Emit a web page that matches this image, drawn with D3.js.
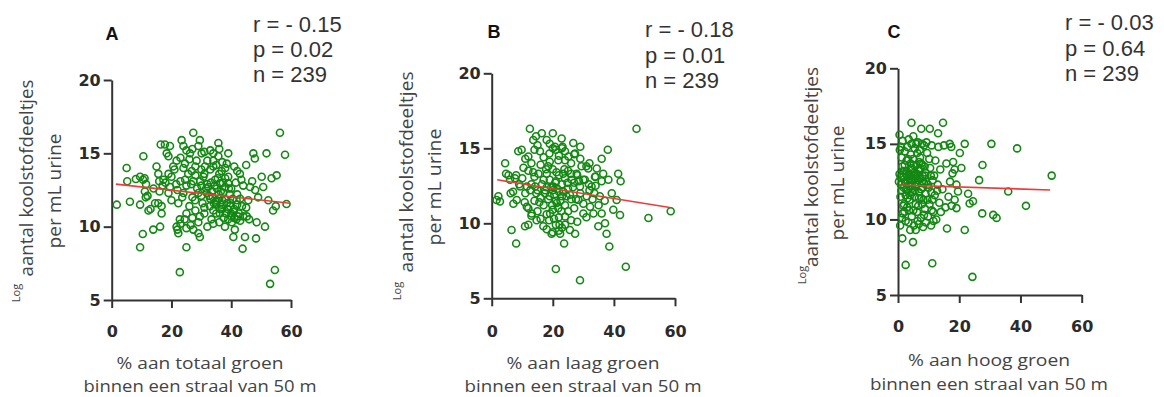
<!DOCTYPE html>
<html>
<head>
<meta charset="utf-8">
<script src="https://cdn.jsdelivr.net/npm/d3@7"></script>
<style>
  body { margin: 0; background: #fff; }
  svg { display: block; }
</style>
</head>
<body>
<svg id="chart" width="1164" height="397"></svg>
<script>
// ticks
var xTicks = [0, 20, 40, 60];
var yTicks = [5, 10, 15, 20];

// panel A: % totaal groen vs log koolstofdeeltjes
var pointsA = [
  [1.7,11.5],[5,14.0],[5.2,13.1],[6.1,11.7],[8.1,13.25],[9.5,13.4],[10.5,13.2],[11.5,12.9],[9.5,11.5],[9.5,8.6],
  [10.4,9.5],[10.6,14.8],[11.1,12.4],[11.4,12.0],[12.3,11.1],[13.9,9.8],[14.5,11.6],[15,14.1],[15.6,13.6],[15.9,13.1],
  [16.2,10.0],[16.4,15.6],[16.7,10.9],[16.7,11.4],[15.6,11.6],[17.3,13.2],[17.8,15.6],[18.4,15.0],[19,14.8],[19.5,15.5],
  [19,13.6],[19.5,12.7],[20,13.4],[20.6,14.1],[21.7,14.5],[22.3,11.6],[21.7,10.0],[22.3,9.55],[22.8,10.5],[22.8,6.9],
  [23.4,15.9],[24,15.5],[24.5,14.3],[25,8.6],[25,12.8],[25.6,13.6],[26.2,15.0],[26.8,13.8],[27.3,16.4],[27.3,13.1],
  [27.3,9.8],[27.9,11.8],[28.4,14.5],[29,15.5],[29.5,15.9],[29,9.55],[29.5,9.3],[29.5,10.7],[30.1,15.0],[30.7,13.4],
  [31.2,14.1],[31.8,12.3],[32.3,12.7],[32.9,11.4],[33.4,10.5],[34,15.0],[34,14.1],[34.6,13.2],[35.1,11.8],[35.7,15.7],
  [35.7,14.8],[36.2,10.9],[36.2,12.95],[36.8,13.8],[37.3,12.3],[37.9,10.0],[38.5,14.3],[39,12.95],[39.6,11.4],[40.1,10.7],
  [40.7,9.3],[41.2,9.8],[41.8,10.5],[42.3,10.7],[42.9,13.6],[43.4,13.2],[43.8,8.5],[44.6,9.3],[45.2,10.7],[45.7,11.8],
  [46.3,12.7],[47.4,15.0],[47.9,14.65],[48.3,9.2],[48.5,10.3],[49,12.0],[50.2,13.4],[50.7,12.7],[51.3,10.0],[51.8,15.0],
  [52.4,11.8],[53,6.1],[53.5,13.3],[54,11.1],[54.6,7.05],[54.9,11.4],[55.2,13.5],[56.3,16.4],[58,14.9],[58.5,11.55],
  [30,12.1],[31,11.3],[32,12.9],[33,11.9],[33.5,12.4],[34,11.1],[34.5,12.8],[35,11.5],[35.5,13.3],[36,11.9],
  [36.5,12.4],[37,11.2],[37.5,10.6],[38,12.7],[38.5,11.6],[39,13.4],[39.5,12.2],[40,10.9],[40.5,11.9],[41,10.6],
  [41.5,13.0],[42,11.5],[43,10.4],[44,10.7],[33,13.9],[32,14.5],[31,13.6],[34,10.2],[36,10.3],[38,14.0],
  [37,14.4],[35,14.2],[33,15.2],[36,15.3],[39,15.0],[30,12.8],[29,12.3],[28,13.5],[27,12.0],[26,11.4],
  [25,10.9],[24,12.3],[23,13.1],[22,12.5],[21,13.9],[26,14.6],[28,14.1],[24,14.0],[23,10.2],[22,9.8],
  [25,9.9],[27,10.6],[28,11.1],[29,10.3],[30,13.9],[31,10.9],[32,10.0],[35,10.9],[37,11.8],[39,10.5],
  [40,12.6],[41,11.2],[42,12.2],[44,12.8],[45,11.3],[46,10.5],[47,13.1],[48,12.5],[43,11.9],[41,14.1],
  [42,13.8],[45,14.2],[20,11.8],[19,12.3],[18,13.0],[17,12.8],[16,12.4],[14,12.6],[13,11.2],[12,12.1],
  [11,13.3],[27,15.3],[25,15.2],[23,14.7],[31,15.1],[34,14.5],[38,13.3],[36,13.6],
  [33.8,12.0],[34.8,11.7],[35.8,12.2],[36.8,11.5],[37.8,11.9],[38.8,11.2],[39.8,11.6],[40.8,11.0],[41.8,11.8],[33.2,13.0],
  [35.2,12.6],[37.2,13.0],[39.2,12.6],[34.2,11.6],[36.2,11.2],[38.2,10.9],[40.2,10.3],[42.6,10.9],[32.6,12.1],[31.6,12.6],
  [29.6,13.1],[28.6,12.6],[26.6,12.9],[24.6,13.2],[23.6,12.0],[21.6,12.9],[26.4,10.1],[24.4,10.5],[30.4,11.6],[43.6,11.4]
];

// panel B: % laag groen
var pointsB = [
  [1.6,11.55],[2.2,11.8],[2.7,11.45],[4.4,14.0],[4.7,13.3],[5.5,13.2],[6,12.9],[6.2,12.0],[6.5,9.55],[7.1,11.3],
  [7.6,13.0],[8,8.65],[8.2,11.55],[8.7,14.8],[9.3,12.45],[9.8,14.9],[10.4,13.7],[10.9,9.8],[11.5,12.45],[11.5,11.1],
  [12,14.45],[12.5,16.3],[13.1,10.65],[13.6,15.55],[14.2,12.45],[14.5,15.8],[14.7,10.2],[15.3,13.3],[15.8,14.8],[16.4,16.0],
  [16.9,9.8],[17.4,12.0],[18,15.55],[18.5,13.8],[18.9,14.65],[19.1,10.65],[19.6,9.3],[20,16.0],[20.2,12.45],[20.7,15.1],
  [21,6.95],[21.3,11.35],[21.8,14.2],[22.4,9.3],[22.9,15.65],[23.2,15.1],[23.4,13.3],[23.7,8.65],[24,10.45],[24.5,11.8],
  [25.1,14.45],[25.6,9.55],[26.2,12.9],[26.7,15.35],[27.3,14.65],[27.3,9.3],[27.8,13.3],[28.4,11.55],[28.9,6.2],[28.9,12.45],
  [29.4,13.8],[30,10.65],[30.5,12.9],[31.1,11.8],[31.6,13.65],[32.2,11.1],[32.7,12.45],[33.3,10.65],[33.8,13.1],[34.4,13.65],
  [34.9,9.8],[35.4,11.8],[36,10.65],[36.5,13.3],[37.1,10.0],[37.6,9.3],[38,14.9],[38.2,12.9],[38.5,8.45],[39.3,12.0],
  [39.8,10.9],[40.9,11.55],[41.4,13.3],[42,10.55],[42.2,12.8],[43.9,7.1],[47.4,16.3],[51.3,10.35],[58.6,10.8],
  [10,13.0],[11,12.0],[12,13.5],[12,11.0],[13,12.6],[13,14.0],[14,11.5],[14,13.1],[15,12.2],[15,10.8],
  [16,13.9],[16,11.7],[16,10.3],[17,12.9],[17,14.4],[17,11.2],[18,12.4],[18,10.6],[18,13.3],[19,11.8],
  [19,12.9],[19,14.1],[20,12.2],[20,10.9],[20,13.6],[21,11.5],[21,12.8],[21,9.9],[22,12.1],[22,13.2],
  [22,10.4],[22,14.5],[23,11.8],[23,12.6],[23,9.7],[24,13.0],[24,11.2],[24,14.2],[25,12.3],[25,10.8],
  [25,13.5],[26,11.6],[26,14.0],[26,10.2],[27,12.7],[27,11.0],[28,13.2],[28,10.1],[29,12.0],[29,14.3],
  [30,11.3],[30,12.9],[31,13.8],[31,10.4],[32,12.2],[33,11.6],[34,12.5],[35,11.2],[36,12.8],[37,11.5],
  [20,15.0],[19,15.3],[23,15.0],[24,14.8],[14,14.9],[11,14.3],[9,12.6],[8,13.2],[7,12.1],[18,9.6],
  [20,9.4],[22,9.5],[24,9.9],[15,15.2],[21,14.9],[26,13.3],[27,14.6],[29,15.1],[32,14.0],[34,13.1],
  [36,14.3],[13,10.5],[12,9.9],
  [16.5,12.6],[17.5,12.2],[18.5,11.6],[19.5,12.4],[20.5,11.9],[21.5,12.3],[22.5,11.5],[23.5,12.1],[20.8,12.7],[19.8,11.2],
  [21.8,11.0],[18.8,10.2],[20.4,10.3],[22.8,10.8],[17.8,13.6],[23.8,13.6],[15.6,11.4],[14.6,12.0],[25.6,11.9],[26.6,12.4],
  [13.6,13.4],[12.6,12.2],[27.6,11.6],[28.6,12.8],[24.8,12.7],[21.2,13.4],[22.2,9.9],[31.8,12.6],[33.6,12.0],[10.8,11.4]
];

// panel C: % hoog groen
var pointsC = [
  [1.4,8.75],[2.5,6.99],[4.9,8.5],[4.4,16.4],[7.6,16.0],[10.4,16.0],[11.2,7.1],[13.1,15.7],[14.7,16.4],[16.0,9.4],
  [16.9,15.0],[17.4,14.8],[15.8,13.7],[18,13.8],[17.8,13.05],[18.5,13.3],[19.1,12.3],[19.6,11.85],[19.1,10.75],[20.2,14.4],
  [20.7,13.4],[21.8,15.0],[21.8,9.3],[22.9,11.7],[23.4,11.05],[24.3,6.2],[24.5,11.2],[26.5,12.6],[27.6,13.6],[27.5,10.4],
  [30.5,15.0],[31.1,10.3],[32.2,10.1],[36,11.85],[38.9,14.7],[41.8,10.9],[50.2,12.9],
  [0.5,13.0],[0.8,11.5],[1.0,12.3],[1.2,14.1],[1.5,10.4],[1.8,12.8],[2.0,11.0],[2.2,13.6],[2.5,9.9],[2.7,12.0],
  [3.0,14.8],[3.0,10.8],[0.5,15.6],[1.5,15.2],[0.7,9.6],[2.0,13.2],[2.5,11.6],[3.2,12.6],
  [3.5,13.0],[3.8,11.3],[4.0,12.4],[4.2,14.3],[4.5,10.2],[4.5,13.4],[4.8,11.8],[5.0,12.9],[5.2,9.6],[5.5,12.2],
  [5.5,14.7],[5.8,11.0],[6.0,13.6],[6.2,10.5],[3.5,15.3],[5.0,15.5],[6.0,15.0],[4.0,9.3],[5.8,9.3],[4.3,12.0],
  [5.3,13.1],[3.7,12.7],
  [6.5,12.6],[6.8,11.4],[7.0,13.2],[7.2,14.1],[7.5,10.1],[7.5,12.0],[7.8,11.0],[8.0,13.6],[8.2,9.5],[8.5,12.4],
  [8.5,14.9],[8.8,10.7],[9.0,11.7],[6.5,15.1],[7.8,15.0],[9.0,13.1],[6.8,9.7],[8.0,12.9],
  [9.5,14.4],[9.8,10.2],[10.0,12.1],[10.3,11.0],[10.5,13.4],[10.8,9.6],[11.0,14.9],[11.3,12.6],[11.5,10.5],[12.0,11.6],
  [12.2,13.9],[12.5,10.0],[13.0,12.3],[13.2,14.8],[13.5,11.1],[14.0,10.5],[14.5,12.0],[15.0,14.9],[15.5,10.8],[16.5,11.5],
  [17.0,12.5],[17.5,10.9],[18.5,11.3],[13.8,13.3],
  [0.3,12.5],[0.6,14.6],[1.1,11.9],[1.4,13.5],[1.7,10.9],[2.3,12.5],[2.8,13.9],[3.1,11.4],[3.3,14.0],[3.6,10.6],
  [4.1,13.7],[4.6,12.2],[4.9,14.0],[5.4,11.5],[5.7,12.7],[6.1,12.3],[6.3,14.4],[6.6,10.9],[6.9,13.8],[7.3,12.7],
  [7.6,13.7],[8.3,11.3],[8.7,13.5],[9.2,12.5],[9.6,11.3],[10.2,14.0],[10.7,12.9],[11.2,11.3],[11.8,12.9],[2.2,14.5],
  [4.4,15.0],[7.1,14.6],[9.3,15.1],[1.3,10.1],[3.4,9.8],[6.4,9.9],[9.1,9.8],[11.6,9.9],
  [1.9,12.1],[2.9,13.2],[3.9,12.9],[4.7,12.6],[5.9,13.0],[6.7,13.3],[7.9,12.4],[8.9,12.9],[2.6,13.0],[3.5,12.2],
  [4.3,13.3],[5.1,13.6],[6.4,12.9],[7.4,13.4],[8.1,12.1],[1.6,13.2],[0.9,12.8],[5.6,11.9],[6.9,11.8],[4.0,11.6],
  [3.0,11.9],[7.7,11.4],[9.8,12.3],[10.9,11.8],[2.1,10.5],[5.0,10.6],[8.5,10.3],[11.0,10.6],[12.8,11.9],[1.0,14.8]
];

// regression lines (start, end)
var fitA = [[1.4, 12.9], [59.7, 11.6]];
var fitB = [[1.8, 12.9], [58.3, 11.05]];
var fitC = [[0.4, 12.28], [49.7, 11.95]];

var statsA = ["r = - 0.15", "p = 0.02", "n = 239"];
var statsB = ["r = - 0.18", "p = 0.01", "n = 239"];
var statsC = ["r = - 0.03", "p = 0.64", "n = 239"];

var xTitleA = ["% aan totaal groen", "binnen een straal van 50 m"];
var xTitleB = ["% aan laag groen", "binnen een straal van 50 m"];
var xTitleC = ["% aan hoog groen", "binnen een straal van 50 m"];
var yTitle = ["aantal koolstofdeeltjes", "per mL urine"];

var svg = d3.select("#chart");

var panels = [
  { pts: pointsA, fit: fitA, stats: statsA, xt: xTitleA, letter: "A",
    xr: [111.7, 291], yr: [300, 80], lx: 112, ly: 40, sx: 253, sy: [32, 57, 82],
    tx: 200, ty: [369, 392], tl: [167, 233],
    y1: [33, 178, 197], y2: [61, 191, 115], lg: [20, 293], pad: 18 },
  { pts: pointsB, fit: fitB, stats: statsB, xt: xTitleB, letter: "B",
    xr: [491.7, 675], yr: [298.3, 73.3], lx: 494, ly: 38, sx: 645, sy: [37, 63, 88],
    tx: 583, ty: [369, 392], tl: [153, 237],
    y1: [413, 172, 201], y2: [441, 187, 117], lg: [401, 291], pad: 19 },
  { pts: pointsC, fit: fitC, stats: statsC, xt: xTitleC, letter: "C",
    xr: [898, 1081.7], yr: [295, 68.3], lx: 894, ly: 38, sx: 1065, sy: [30, 56, 81],
    tx: 989, ty: [366, 390], tl: [162, 238],
    y1: [818, 167, 200], y2: [844, 183, 115], lg: [806, 275], pad: 18 }
];

panels.forEach(function(p) {
  var x = d3.scaleLinear().domain([0, 60]).range(p.xr);
  var y = d3.scaleLinear().domain([5, 20]).range(p.yr);
  var g = svg.append("g");

  // axes
  var gx = g.append("g")
    .attr("transform", "translate(0," + p.yr[0] + ")")
    .call(d3.axisBottom(x).tickValues(xTicks).tickSize(8).tickSizeOuter(0).tickPadding(p.pad));
  var gy = g.append("g")
    .attr("transform", "translate(" + p.xr[0] + ",0)")
    .call(d3.axisLeft(y).tickValues(yTicks).tickSize(8).tickSizeOuter(0).tickPadding(3));
  [gx, gy].forEach(function(a) {
    a.selectAll("path, line").attr("stroke", "#333").attr("stroke-width", 2);
    a.selectAll("text")
      .attr("fill", "#2b2b2b")
      .style("font-family", "DejaVu Sans")
      .style("font-weight", "bold")
      .style("font-size", "16px");
  });

  // points
  g.append("g").selectAll("circle")
    .data(p.pts)
    .enter()
    .append("circle")
    .attr("cx", d => x(d[0]))
    .attr("cy", d => y(d[1]))
    .attr("r", 3.5)
    .attr("fill", "none")
    .attr("stroke", "#138813")
    .attr("stroke-width", 1.6);

  // fit line
  g.append("path")
    .datum(p.fit)
    .attr("d", d3.line().x(d => x(d[0])).y(d => y(d[1])))
    .attr("stroke", "#f03a3a")
    .attr("stroke-width", 1.6)
    .attr("fill", "none");

  // panel letter
  g.append("text")
    .attr("x", p.lx).attr("y", p.ly)
    .attr("text-anchor", "middle")
    .style("font-family", "Liberation Sans")
    .style("font-weight", "bold")
    .style("font-size", "18px")
    .attr("fill", "#111")
    .text(p.letter);

  // stats
  g.selectAll(".stat")
    .data(p.stats)
    .enter()
    .append("text")
    .attr("x", p.sx)
    .attr("y", (d, i) => p.sy[i])
    .style("font-family", "Liberation Sans")
    .style("font-size", "22px")
    .attr("fill", "#333")
    .text(d => d);

  // x title
  g.selectAll(".xt")
    .data(p.xt)
    .enter()
    .append("text")
    .attr("x", p.tx)
    .attr("y", (d, i) => p.ty[i])
    .attr("text-anchor", "middle")
    .attr("textLength", (d, i) => p.tl[i])
    .attr("lengthAdjust", "spacingAndGlyphs")
    .style("font-family", "Open Sans")
    .style("font-size", "17px")
    .attr("fill", "#444")
    .text(d => d);

  // y title (rotated)
  [p.y1, p.y2].forEach(function(t, i) {
    g.append("text")
      .attr("transform", "translate(" + t[0] + "," + t[1] + ") rotate(-90)")
      .attr("text-anchor", "middle")
      .attr("textLength", t[2])
      .attr("lengthAdjust", "spacingAndGlyphs")
      .style("font-family", "Open Sans")
      .style("font-size", "18px")
      .attr("fill", "#444")
      .text(yTitle[i]);
  });
  g.append("text")
    .attr("transform", "translate(" + p.lg[0] + "," + p.lg[1] + ") rotate(-90)")
    .attr("text-anchor", "middle")
    .style("font-family", "Open Sans")
    .style("font-size", "11px")
    .attr("fill", "#444")
    .text("Log");
});
</script>
</body>
</html>
